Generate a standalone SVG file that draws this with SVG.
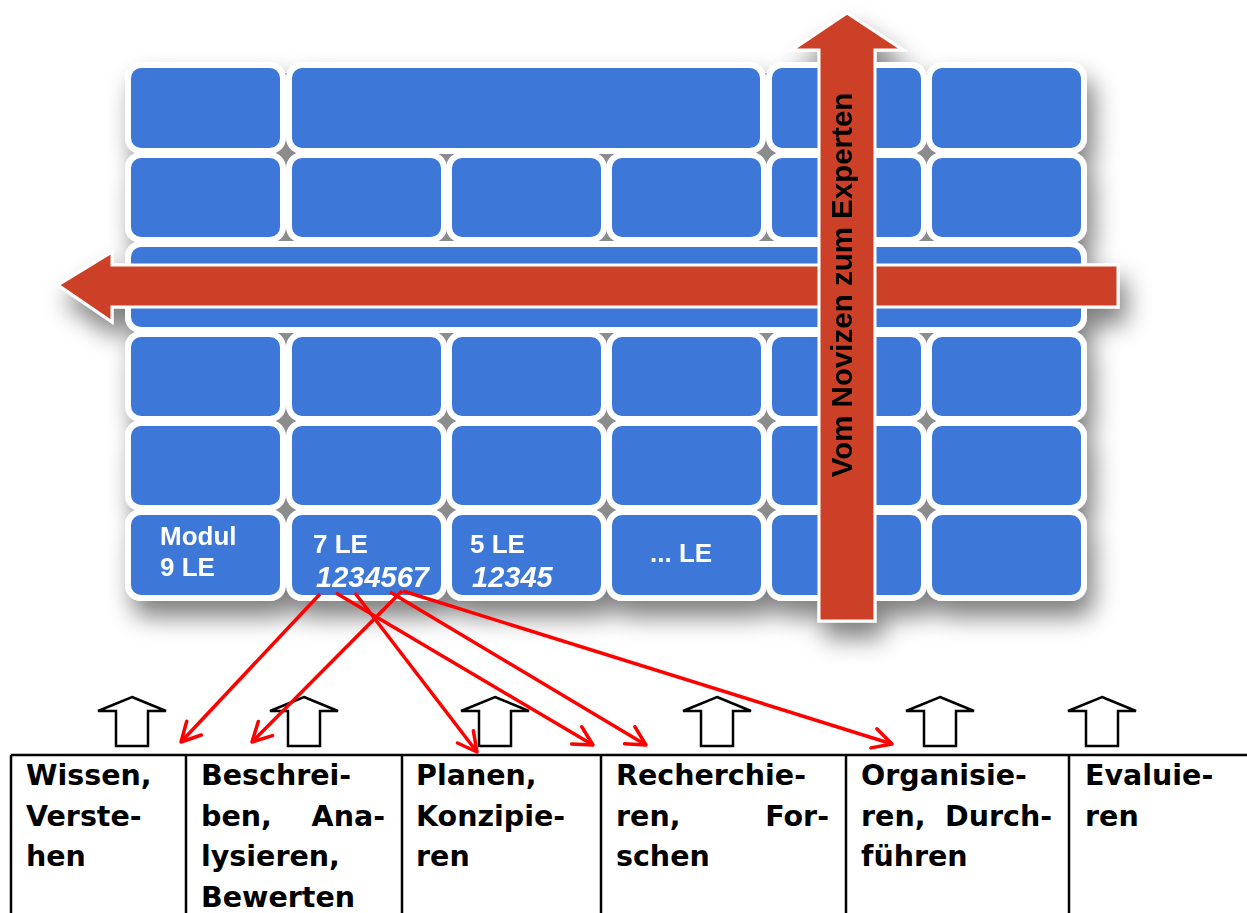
<svg xmlns="http://www.w3.org/2000/svg" width="1247" height="913" viewBox="0 0 1247 913">
<defs>
<filter id="shadow" x="-10%" y="-10%" width="125%" height="135%">
<feGaussianBlur in="SourceAlpha" stdDeviation="12"/>
<feOffset dx="7" dy="16" result="b"/>
<feComponentTransfer><feFuncA type="linear" slope="0.5"/></feComponentTransfer>
<feMerge><feMergeNode/><feMergeNode in="SourceGraphic"/></feMerge>
</filter>
<marker id="vhead" viewBox="-22 -12 24 24" markerWidth="24" markerHeight="24" refX="0" refY="0" orient="auto" markerUnits="userSpaceOnUse">
<path d="M-19,-10 L0,0 L-19,10" fill="none" stroke="#FF0000" stroke-width="3.5" stroke-linecap="round" stroke-linejoin="round"/>
</marker>
<path id="uparrow" d="M0,697 L34,711 L16,711 L16,746 L-16,746 L-16,711 L-34,711 Z"/>
</defs>
<style>
.blk{fill:#3C78D8;stroke:#FFFFFF;stroke-width:6}
.red{fill:#CB4125;stroke:#FFFFFF;stroke-width:3}
.wt{fill:#FFFFFF;font-family:"Liberation Sans",Arial,sans-serif;font-weight:bold;font-size:26px}
.wti{fill:#FFFFFF;font-family:"Liberation Sans",Arial,sans-serif;font-weight:bold;font-style:italic;font-size:29px}
.vt{fill:#000000;font-family:"Liberation Sans",Arial,sans-serif;font-weight:bold;font-size:29.5px}
.tt{fill:#000000;font-family:"DejaVu Sans",Verdana,sans-serif;font-weight:bold;font-size:28.5px}
.up{fill:#FFFFFF;stroke:#000000;stroke-width:2.5}
.tl{stroke:#000000;stroke-width:2.5;fill:none}
.con{stroke:#FF0000;stroke-width:3.5;fill:none;marker-end:url(#vhead)}
</style>
<rect width="1247" height="913" fill="#FFFFFF"/>
<g id="wall" filter="url(#shadow)">
<rect x="136" y="73" width="940" height="517" fill="#8C8C8C"/>
<g id="row1">
<rect id="b11" class="blk" x="128" y="65" width="155" height="86" rx="13"/>
<rect id="b12" class="blk" x="289" y="65" width="474" height="86" rx="13"/>
<rect id="b15" class="blk" x="769" y="65" width="155" height="86" rx="13"/>
<rect id="b16" class="blk" x="929" y="65" width="155" height="86" rx="13"/>
</g>
<g id="row2">
<rect id="b21" class="blk" x="128" y="155" width="155" height="85" rx="13"/>
<rect id="b22" class="blk" x="289" y="155" width="155" height="85" rx="13"/>
<rect id="b23" class="blk" x="449" y="155" width="155" height="85" rx="13"/>
<rect id="b24" class="blk" x="609" y="155" width="155" height="85" rx="13"/>
<rect id="b25" class="blk" x="769" y="155" width="155" height="85" rx="13"/>
<rect id="b26" class="blk" x="929" y="155" width="155" height="85" rx="13"/>
</g>
<g id="row3">
<rect id="b31" class="blk" x="128" y="244" width="956" height="86" rx="13"/>
</g>
<g id="row4">
<rect id="b41" class="blk" x="128" y="334" width="155" height="85" rx="13"/>
<rect id="b42" class="blk" x="289" y="334" width="155" height="85" rx="13"/>
<rect id="b43" class="blk" x="449" y="334" width="155" height="85" rx="13"/>
<rect id="b44" class="blk" x="609" y="334" width="155" height="85" rx="13"/>
<rect id="b45" class="blk" x="769" y="334" width="155" height="85" rx="13"/>
<rect id="b46" class="blk" x="929" y="334" width="155" height="85" rx="13"/>
</g>
<g id="row5">
<rect id="b51" class="blk" x="128" y="423" width="155" height="85" rx="13"/>
<rect id="b52" class="blk" x="289" y="423" width="155" height="85" rx="13"/>
<rect id="b53" class="blk" x="449" y="423" width="155" height="85" rx="13"/>
<rect id="b54" class="blk" x="609" y="423" width="155" height="85" rx="13"/>
<rect id="b55" class="blk" x="769" y="423" width="155" height="85" rx="13"/>
<rect id="b56" class="blk" x="929" y="423" width="155" height="85" rx="13"/>
</g>
<g id="row6">
<g id="modul"><rect class="blk" x="128" y="512" width="155" height="86" rx="13"/>
<text class="wt" x="160" y="545">Modul</text><text class="wt" x="160" y="576">9 LE</text></g>
<g id="le7"><rect class="blk" x="289" y="512" width="155" height="86" rx="13"/>
<text class="wt" x="313" y="553">7 LE</text><text class="wti" x="316" y="587">1234567</text></g>
<g id="le5"><rect class="blk" x="449" y="512" width="155" height="86" rx="13"/>
<text class="wt" x="470" y="553">5 LE</text><text class="wti" x="472" y="587">12345</text></g>
<g id="lex"><rect class="blk" x="609" y="512" width="155" height="86" rx="13"/>
<text class="wt" x="650" y="562">... LE</text></g>
<rect id="b65" class="blk" x="769" y="512" width="155" height="86" rx="13"/>
<rect id="b66" class="blk" x="929" y="512" width="155" height="86" rx="13"/>
</g>
<g id="harrow">
<path class="red" d="M58,285 L112,252 L112,265 L1118,265 L1118,307 L112,307 L112,322 Z"/>
</g>
<g id="varrow">
<path class="red" d="M847,13 L903,50 L875,50 L875,621 L819,621 L819,50 L792,50 Z"/>
<text class="vt" transform="translate(852,285) rotate(-90)" text-anchor="middle">Vom Novizen zum Experten</text>
</g>
</g>
<g id="uparrows">
<use href="#uparrow" class="up" x="132"/>
<use href="#uparrow" class="up" x="304"/>
<use href="#uparrow" class="up" x="495"/>
<use href="#uparrow" class="up" x="717"/>
<use href="#uparrow" class="up" x="940"/>
<use href="#uparrow" class="up" x="1102"/>
</g>
<g id="table">
<path class="tl" d="M11,755 H1247 M11,755 V913 M186,755 V913 M402,755 V913 M601,755 V913 M846,755 V913 M1069,755 V913"/>
<g id="c1"><text class="tt" x="26" y="785">Wissen,</text><text class="tt" x="26" y="826">Verste-</text><text class="tt" x="26" y="866">hen</text></g>
<g id="c2"><text class="tt" x="201" y="785">Beschrei-</text><text class="tt" x="201" y="826">ben,</text><text class="tt" x="385" y="826" text-anchor="end">Ana-</text><text class="tt" x="201" y="866">lysieren,</text><text class="tt" x="201" y="907">Bewerten</text></g>
<g id="c3"><text class="tt" x="416" y="785">Planen,</text><text class="tt" x="416" y="826">Konzipie-</text><text class="tt" x="416" y="866">ren</text></g>
<g id="c4"><text class="tt" x="616" y="785">Recherchie-</text><text class="tt" x="616" y="826">ren,</text><text class="tt" x="829" y="826" text-anchor="end">For-</text><text class="tt" x="616" y="866">schen</text></g>
<g id="c5"><text class="tt" x="861" y="785">Organisie-</text><text class="tt" x="861" y="826">ren,</text><text class="tt" x="1052" y="826" text-anchor="end">Durch-</text><text class="tt" x="861" y="866">führen</text></g>
<g id="c6"><text class="tt" x="1085" y="785">Evaluie-</text><text class="tt" x="1085" y="826">ren</text></g>
</g>
<g id="connectors">
<line class="con" x1="320" y1="594" x2="181" y2="742"/>
<line class="con" x1="402" y1="591" x2="252" y2="742"/>
<line class="con" x1="355" y1="593" x2="477" y2="752"/>
<line class="con" x1="336" y1="593" x2="593" y2="745"/>
<line class="con" x1="390" y1="592" x2="646" y2="745"/>
<line class="con" x1="403" y1="591" x2="892" y2="744"/>
</g>
</svg>
